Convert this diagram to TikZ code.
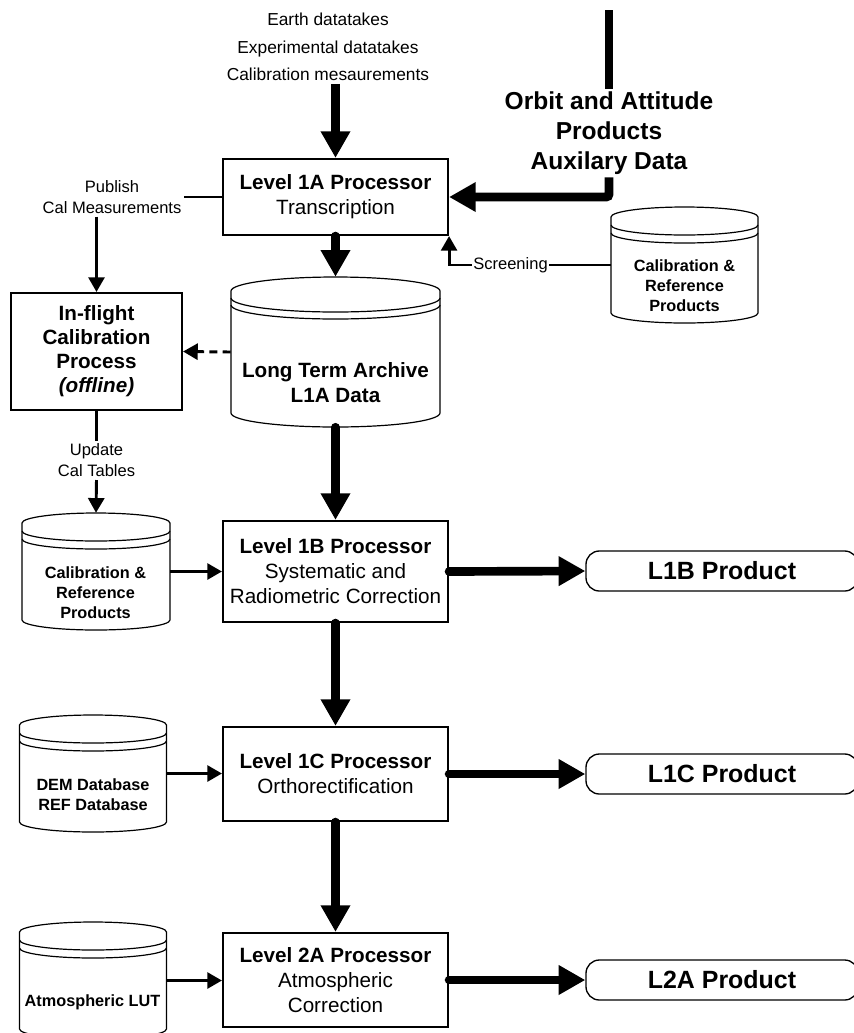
\documentclass[tikz,border=0pt]{standalone}
\usepackage{fontspec}
\setmainfont{Liberation Sans}
\usetikzlibrary{arrows.meta,calc}
\newcommand\boxfont{\fontsize{15.5pt}{18.75pt}\selectfont}
\newcommand\fltfont{\fontsize{15.5pt}{18pt}\selectfont\bfseries}
\newcommand\infont{\fontsize{13pt}{20.6pt}\selectfont}
\newcommand\orbfont{\fontsize{18.4pt}{22.5pt}\selectfont\bfseries}
\newcommand\lblfont{\fontsize{12.4pt}{15.75pt}\selectfont}
\newcommand\cylfont{\fontsize{12.2pt}{15pt}\selectfont\bfseries}
\newcommand\prodfont{\fontsize{18.7pt}{22pt}\selectfont\bfseries}
\newcommand\ltafont{\fontsize{15.5pt}{18.75pt}\selectfont\bfseries}
% name, cx, top, rx, bottom, ry, offset
\newcommand\dbcyl[7]{%
  \path[draw=black,line width=0.9pt,fill=white]
    ({#2-#4},{#3+#6}) -- ({#2-#4},{#5-#6})
    arc[start angle=180,end angle=0,x radius=#4,y radius=#6]
    -- ({#2+#4},{#3+#6})
    arc[start angle=0,end angle=-180,x radius=#4,y radius=#6] -- cycle;
  \draw[line width=0.9pt] ({#2-#4},{#3+#6+#7})
    arc[start angle=180,end angle=0,x radius=#4,y radius=#6];
  \draw[line width=0.9pt] ({#2-#4},{#3+#6+2*#7})
    arc[start angle=180,end angle=0,x radius=#4,y radius=#6];
  \node[inner sep=0pt,minimum width={2*#4*0.75pt},minimum height={(#5-#3)*0.75pt}]
    (#1) at ({#2},{(#3+#5)/2}) {};
}
\begin{document}
\begin{tikzpicture}[x=0.75pt,y=-0.75pt,
  box/.style={draw,line width=1.6pt,inner sep=0pt,align=center,font=\boxfont,
    minimum width=168.75pt},
  pill/.style={draw,line width=1pt,rounded corners=10pt,minimum width=204pt,
    minimum height=30pt,inner sep=0pt,font=\prodfont},
  bigarrow/.style={line width=6.5pt,line cap=round,
    -{Triangle[width=21pt,length=20pt]}},
  medarrow/.style={line width=2.2pt,-{Triangle[width=12pt,length=11pt]}},
  medline/.style={line width=2.2pt},
  lbl/.style={align=center,font=\lblfont,inner sep=2pt},
  cyltext/.style={align=center,font=\cylfont,inner sep=1pt}]
\useasboundingbox (0,0) rectangle (854,1033);
\fill[white] (0,0) rectangle (854,1033);
\clip (0,0) rectangle (854,1033);

% processors
\node[box,minimum height=57pt] (l1a) at (335.5,197)
  {\textbf{Level 1A Processor}\\Transcription};
\node[box,minimum height=75.75pt] (l1b) at (335.5,571.5)
  {\textbf{Level 1B Processor}\\Systematic and\\Radiometric Correction};
\node[box,minimum height=70.5pt] (l1c) at (335.5,774)
  {\textbf{Level 1C Processor}\\Orthorectification};
\node[box,minimum height=70.5pt] (l2a) at (335.5,980)
  {\textbf{Level 2A Processor}\\Atmospheric\\Correction};
\node[draw,line width=1.6pt,inner sep=0pt,align=center,font=\fltfont,
  minimum width=128.25pt,minimum height=87.75pt] (flight) at (96.5,351.5)
  {In-flight\\Calibration\\Process\\\textit{(offline)}};

% databases
\dbcyl{calR}{684.5}{207}{73.5}{323}{10}{8}
\node[cyltext] (calRt) at (684.5,286) {Calibration \&\\Reference\\Products};
\dbcyl{lta}{335.5}{277}{104.5}{427}{14}{7}
\node[align=center,font=\ltafont,inner sep=1pt] (ltat) at (335.5,382.5)
  {Long Term Archive\\L1A Data};
\dbcyl{calL}{96}{513}{74}{630}{10}{8}
\node[cyltext] (calLt) at (95.5,593) {Calibration \&\\Reference\\Products};
\dbcyl{dem}{93}{715}{73.5}{832}{10}{8}
\node[cyltext] (demt) at (93,795) {DEM Database\\REF Database};
\dbcyl{lut}{93}{922}{73.5}{1039}{10}{8}
\node[cyltext] (lutt) at (92.5,1002) {Atmospheric LUT};

% products
\node[pill] (p1b) at (722,571) {L1B Product};
\node[pill] (p1c) at (722,774) {L1C Product};
\node[pill] (p2a) at (722,980) {L2A Product};

% top texts
\node[align=center,font=\infont,inner sep=2pt] (inp) at (328,47)
  {Earth datatakes\\Experimental datatakes\\Calibration mesaurements};
\node[align=center,font=\orbfont,inner sep=2pt] (orbit) at (609,133)
  {Orbit and Attitude\\Products\\Auxilary Data};
\coordinate (orbtop) at (609,10);

% side labels
\node[lbl] (pub) at (112,197) {Publish\\Cal Measurements};
\node[lbl] (upd) at (96.5,460.5) {Update\\Cal Tables};

% connectors
\draw[bigarrow,line cap=butt] (inp.south -| l1a.north) -- (l1a.north);
\draw[line width=6.5pt] (orbtop) -- (orbit.north);
\draw[bigarrow,line cap=butt,rounded corners=2pt] (orbit.south) |- (l1a.east);
\draw[medarrow] (calR.west) -- (calR.west -| l1a.south east)
  node[pos=0.62,fill=white,font=\lblfont,inner sep=1pt] (scr) {Screening}
  -- (l1a.south east);
\draw[bigarrow] (l1a.south) -- (lta.north);
\draw[medline] (l1a.west) -- (pub.east |- l1a.west);
\draw[medarrow] (pub.south -| flight.north) -- (flight.north);
\draw[medarrow,dashed,dash pattern=on 6pt off 4pt] (lta.west) -- (flight.east);
\draw[medline] (flight.south) -- (upd.north);
\draw[medarrow] (upd.south) -- (calL.north);
\draw[bigarrow] (lta.south) -- (l1b.north);
\draw[medarrow] (calL.east) -- (calL.east -| l1b.west);
\draw[bigarrow] (l1b.east) -- (p1b.west);
\draw[bigarrow] (l1b.south) -- (l1c.north);
\draw[medarrow] (dem.east) -- (dem.east -| l1c.west);
\draw[bigarrow] (l1c.east) -- (p1c.west);
\draw[bigarrow] (l1c.south) -- (l2a.north);
\draw[medarrow] (lut.east) -- (lut.east -| l2a.west);
\draw[bigarrow] (l2a.east) -- (p2a.west);
\end{tikzpicture}
\end{document}
